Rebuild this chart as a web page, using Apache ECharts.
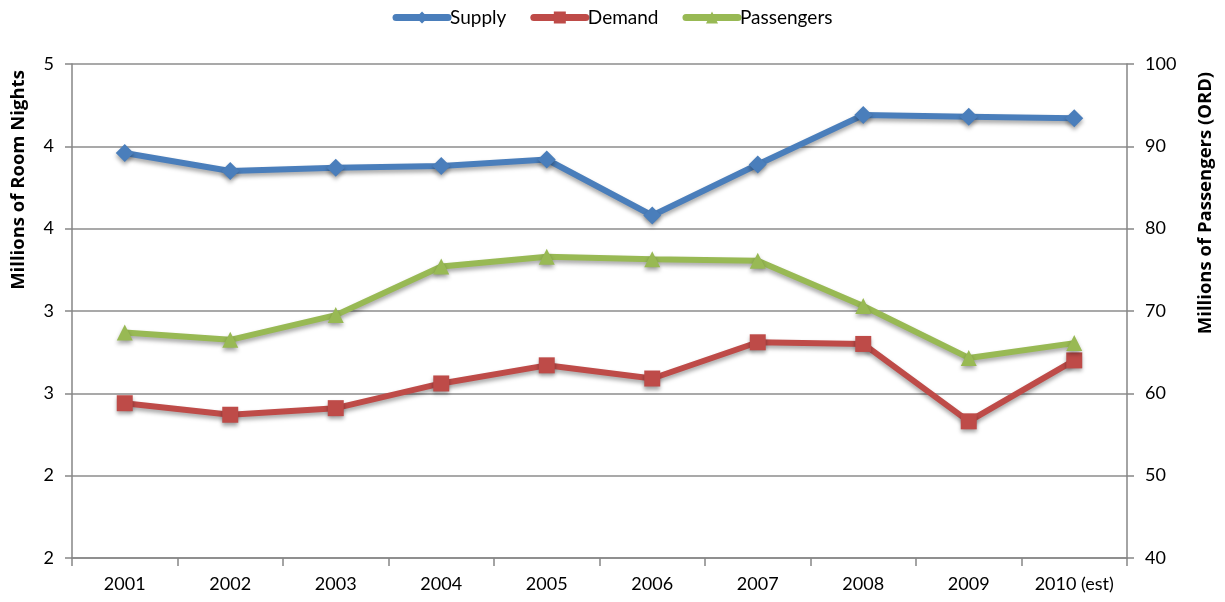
<!DOCTYPE html>
<html>
<head>
<meta charset="utf-8">
<script src="https://cdn.jsdelivr.net/npm/echarts@6/dist/echarts.min.js"></script>
<style>
  html, body { margin: 0; padding: 0; background: #fff; }
  #chart { width: 1225px; height: 602px; }
</style>
</head>
<body>
<div id="chart"></div>
<script>
// Hotel room nights (left axis, millions) and ORD passengers (right axis, millions)
const years = ['2001', '2002', '2003', '2004', '2005', '2006', '2007', '2008', '2009', '2010 (est)'];
const supply = [3.96, 3.85, 3.87, 3.88, 3.92, 3.58, 3.89, 4.19, 4.18, 4.17];
const demand = [2.44, 2.37, 2.41, 2.56, 2.67, 2.59, 2.81, 2.80, 2.33, 2.70];
const passengers = [67.4, 66.5, 69.5, 75.4, 76.6, 76.3, 76.1, 70.6, 64.3, 66.1];

const leftTitle = 'Millions of Room Nights';
const rightTitle = 'Millions of Passengers (ORD)';

const FONT = 'Lato';
const TITLE_FONT = 'Open Sans';
const gridColor = '#8c8c8c';
const axisColor = '#868686';

const shadow = { shadowColor: 'rgba(0,0,0,0.35)', shadowBlur: 4, shadowOffsetY: 3 };

function lineSeries(name, data, color, symbol, size, yIndex) {
  return {
    name, type: 'line', data, yAxisIndex: yIndex,
    symbol, symbolSize: size,
    lineStyle: Object.assign({ width: 6, color }, shadow),
    itemStyle: Object.assign({ color }, shadow),
    emphasis: { disabled: true },
    z: 3
  };
}

function sideTitle(text, x, y) {
  return {
    type: 'text', x, y, rotation: Math.PI / 2,
    style: {
      text, fill: '#000', font: 'bold 18.5px "' + TITLE_FONT + '"',
      align: 'center', verticalAlign: 'middle'
    }
  };
}

const chart = echarts.init(document.getElementById('chart'), null, { renderer: 'canvas' });
chart.setOption({
  animation: false,
  textStyle: { fontFamily: FONT },
  legend: {
    top: 3, left: 'center',
    itemWidth: 52, itemHeight: 15, itemGap: 24,
    lineStyle: { width: 7, cap: 'round' },
    textStyle: { fontFamily: FONT, fontSize: 19, color: '#000', padding: [0, 0, 0, -3] },
    data: ['Supply', 'Demand', 'Passengers']
  },
  graphic: [
    sideTitle(leftTitle, 19, 180),
    sideTitle(rightTitle, 1206, 203)
  ],
  grid: { left: 72, right: 98, top: 64, bottom: 44, containLabel: false },
  xAxis: {
    type: 'category', data: years, boundaryGap: true,
    axisLine: { lineStyle: { color: axisColor, width: 1.5 } },
    axisTick: { show: true, length: 8, alignWithLabel: false, lineStyle: { color: axisColor, width: 1.5 } },
    axisLabel: { color: '#000', fontSize: 18, fontFamily: FONT, margin: 17 }
  },
  yAxis: [
    {
      type: 'value', min: 1.5, max: 4.5, interval: 0.5, position: 'left',
      axisLine: { show: true, lineStyle: { color: axisColor, width: 1.5 } },
      axisTick: { show: true, length: 7, lineStyle: { color: axisColor, width: 1.5 } },
      axisLabel: { color: '#000', fontSize: 18, fontFamily: FONT, margin: 18, formatter: v => String(Math.round(v)) },
      splitLine: { show: true, lineStyle: { color: gridColor, width: 1.5 } }
    },
    {
      type: 'value', min: 40, max: 100, interval: 10, position: 'right',
      axisLine: { show: true, lineStyle: { color: axisColor, width: 1.5 } },
      axisTick: { show: true, length: 7, lineStyle: { color: axisColor, width: 1.5 } },
      axisLabel: { color: '#000', fontSize: 18, fontFamily: FONT, margin: 18 },
      splitLine: { show: false }
    }
  ],
  series: [
    lineSeries('Supply', supply, '#4a7ebb', 'diamond', 18, 0),
    lineSeries('Demand', demand, '#be4b48', 'rect', 16, 0),
    lineSeries('Passengers', passengers, '#98b954', 'triangle', 16, 1)
  ]
});
</script>
</body>
</html>
